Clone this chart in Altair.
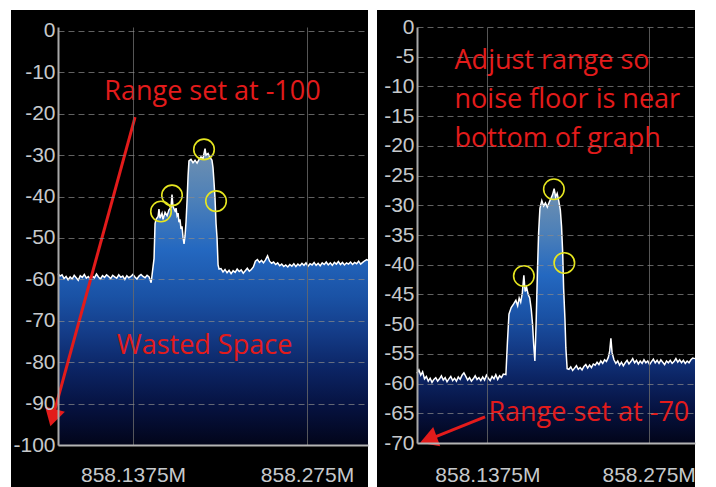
import altair as alt
import pandas as pd

# ---------------- data (frequency offsets in kHz above 858 MHz, level in dB) -------------
left_trace = [
    (78.2, -58.6), (79.8, -59.2), (81.4, -58.9), (83.0, -59.8), (84.6, -59.3), (86.2, -60.1),
    (87.8, -59.4), (89.4, -59.9), (91.0, -59.0), (92.6, -59.6), (94.2, -60.2), (95.8, -59.1),
    (97.4, -59.5), (99.0, -58.8), (100.6, -59.7), (102.2, -59.3), (103.8, -60.0), (105.4, -59.2),
    (107.0, -59.6), (108.6, -58.7), (110.2, -59.4), (111.8, -59.9), (113.4, -59.1), (115.0, -59.5),
    (116.6, -58.9), (118.2, -59.3), (119.8, -59.8), (121.4, -59.0), (123.0, -59.4), (124.6, -59.7),
    (126.2, -58.9), (127.8, -59.5), (129.4, -59.2), (131.0, -60.0), (132.6, -59.1), (134.2, -59.6),
    (135.8, -59.3), (137.4, -58.8), (139.0, -59.4), (140.6, -59.9), (142.2, -59.2), (143.8, -58.8),
    (145.4, -59.3), (147.0, -59.6), (148.6, -59.0), (150.2, -59.4), (151.8, -60.8),
    (154.1, -55.0), (154.9, -46.5), (155.7, -45.5), (157.3, -44.8), (158.0, -43.0), (158.8, -45.2),
    (160.4, -44.0), (161.2, -45.5), (162.8, -43.8), (164.4, -44.6), (165.9, -43.2), (167.5, -42.6),
    (168.3, -39.5), (169.1, -42.4), (170.7, -43.5), (171.5, -42.8), (172.3, -44.6), (173.1, -44.0),
    (173.8, -46.2), (174.6, -45.5), (175.4, -47.8), (176.2, -47.2), (177.0, -49.8), (177.8, -51.4),
    (178.6, -49.5), (179.4, -46.0), (180.2, -41.0), (181.0, -35.0), (181.7, -31.4), (183.3, -31.0),
    (184.9, -31.8), (186.5, -31.2), (188.1, -31.9), (189.7, -31.0), (191.2, -30.4), (192.8, -30.8),
    (194.4, -28.4), (195.2, -30.0), (196.8, -29.6), (198.3, -30.5), (199.9, -31.2), (200.7, -33.0),
    (201.5, -36.5), (202.3, -40.5), (203.1, -46.5), (203.9, -50.0), (204.7, -56.5), (205.5, -57.5),
    (207.0, -57.4), (208.6, -58.2), (210.2, -57.6), (211.8, -58.4), (213.4, -57.8), (215.0, -58.6),
    (216.6, -57.9), (218.2, -58.3), (219.8, -57.5), (221.4, -58.1), (223.0, -57.7), (224.6, -58.5),
    (226.2, -57.9), (227.8, -57.3), (229.4, -58.0), (231.0, -57.6), (232.6, -57.0), (234.2, -55.6),
    (235.8, -55.2), (237.4, -55.9), (239.0, -55.4), (240.6, -56.0), (242.2, -55.3), (243.8, -54.3),
    (245.4, -55.6), (247.0, -56.1), (248.6, -55.8), (250.2, -56.4), (251.8, -56.0), (253.4, -56.7),
    (255.0, -56.3), (256.6, -56.9), (258.2, -56.5), (259.8, -57.0), (261.4, -56.4), (263.0, -56.8),
    (264.6, -56.2), (266.2, -56.9), (267.8, -56.3), (269.4, -56.7), (271.0, -56.1), (272.6, -56.6),
    (274.2, -56.0), (275.8, -56.8), (277.4, -56.2), (279.0, -56.5), (280.6, -55.9), (282.2, -56.6),
    (283.8, -56.1), (285.4, -56.7), (287.0, -56.0), (288.6, -56.4), (290.2, -55.8), (291.8, -56.5),
    (293.4, -56.0), (295.0, -56.6), (296.6, -55.9), (298.2, -56.3), (299.8, -55.7), (301.4, -56.4),
    (303.0, -55.9), (304.6, -56.5), (306.2, -56.0), (307.8, -56.3), (309.4, -55.8), (311.0, -56.4),
    (312.6, -55.9), (314.2, -56.2), (315.8, -55.6), (317.4, -56.3), (319.0, -55.9), (320.6, -55.5),
    (322.2, -55.2), (323.2, -55.4),
]

right_trace = [
    (77.5, -58.3), (79.1, -57.7), (80.7, -58.6), (82.3, -58.0), (83.9, -59.2), (85.5, -58.8),
    (87.1, -59.6), (88.7, -59.1), (90.3, -59.8), (91.9, -59.3), (93.5, -59.0), (95.1, -59.6),
    (96.7, -59.2), (98.3, -58.7), (99.9, -59.4), (101.5, -59.0), (103.1, -59.7), (104.7, -59.2),
    (106.3, -58.8), (107.9, -59.5), (109.5, -59.1), (111.1, -59.6), (112.7, -58.9), (114.3, -59.3),
    (115.9, -58.6), (117.5, -58.2), (119.1, -58.8), (120.7, -59.4), (122.3, -59.0), (123.9, -59.6),
    (125.5, -59.2), (127.1, -58.7), (128.7, -59.3), (130.3, -59.0), (131.9, -59.5), (133.5, -58.9),
    (135.1, -59.4), (136.7, -58.6), (138.3, -59.1), (139.9, -59.5), (141.5, -58.8), (143.1, -59.2),
    (144.7, -58.5), (146.3, -59.3), (147.9, -58.7), (149.5, -59.0), (151.1, -58.4),
    (153.3, -58.5), (154.6, -53.0), (155.9, -48.3), (157.8, -47.2), (159.9, -46.6), (161.8, -46.0),
    (163.3, -46.9), (164.6, -45.6), (165.9, -46.3), (167.3, -44.7), (168.6, -41.8), (169.7, -44.5),
    (170.9, -43.8), (172.3, -45.0), (173.6, -45.6), (174.9, -47.5), (176.0, -50.0), (177.0, -53.5),
    (178.0, -56.2), (179.1, -49.5), (180.2, -41.0), (181.2, -34.5), (182.3, -30.5), (183.9, -29.2),
    (185.5, -30.1), (187.0, -29.6), (188.6, -30.3), (190.2, -29.5), (191.8, -28.8), (193.1, -28.2),
    (194.4, -27.2), (195.7, -28.6), (197.0, -28.0), (198.3, -29.2), (199.7, -30.8), (200.7, -33.5),
    (201.7, -38.0), (202.5, -44.0), (203.6, -49.0), (204.4, -54.0), (205.5, -57.5),
    (207.0, -57.6), (208.6, -57.2), (210.2, -57.8), (211.8, -57.4), (213.4, -57.0), (215.0, -57.6),
    (216.6, -57.3), (218.2, -57.7), (219.8, -57.1), (221.4, -56.8), (223.0, -57.4), (224.6, -56.9),
    (226.2, -57.3), (227.8, -56.7), (229.4, -56.9), (231.0, -56.4), (232.6, -56.8), (234.2, -56.2),
    (235.8, -56.6), (237.4, -56.0), (239.0, -56.3), (240.6, -55.6), (241.8, -54.5), (242.8, -52.4),
    (243.8, -54.8), (245.4, -56.0), (247.0, -56.6), (248.6, -56.2), (250.2, -56.9), (251.8, -56.4),
    (253.4, -57.0), (255.0, -56.5), (256.6, -56.1), (258.2, -56.7), (259.8, -56.3), (261.4, -55.8),
    (263.0, -56.5), (264.6, -56.1), (266.2, -56.7), (267.8, -56.2), (269.4, -56.6), (271.0, -56.0),
    (272.6, -56.5), (274.2, -56.2), (275.8, -56.8), (277.4, -56.3), (279.0, -55.9), (280.6, -56.5),
    (282.2, -56.1), (283.8, -56.6), (285.4, -56.0), (287.0, -56.4), (288.6, -56.8), (290.2, -56.2),
    (291.8, -56.5), (293.4, -56.1), (295.0, -56.6), (296.6, -56.3), (298.2, -55.8), (299.8, -56.4),
    (301.4, -56.0), (303.0, -56.5), (304.6, -56.1), (306.2, -56.6), (307.8, -56.2), (309.4, -56.5),
    (311.0, -56.0), (312.6, -55.7), (314.5, -55.8),
]

left_ticks = [0, -10, -20, -30, -40, -50, -60, -70, -80, -90, -100]
right_ticks = [0, -5, -10, -15, -20, -25, -30, -35, -40, -45, -50, -55, -60, -65, -70]
freq_ticks = [858.1375, 858.275]

left_circles = [(159.6, -43.6), (168.3, -39.7), (193.6, -28.6), (203.1, -41.1)]
right_circles = [(168.6, -41.9), (194.2, -27.3), (203.1, -39.7)]

left_texts = [(200.3, -16.7, "Range set at -100", "center"), (194.0, -78.1, "Wasted Space", "center")]
right_texts = [(109.5, -7.1, "Adjust range so", "left"),
               (109.5, -13.7, "noise floor is near", "left"),
               (109.5, -20.2, "bottom of graph", "left"),
               (224.0, -66.3, "Range set at -70", "center")]

# arrow: start (kHz, dB) -> head (kHz, dB), head angle in degrees
left_arrow = (139.1, -20.8, 74.0, -93.4, 195)
right_arrow = (135.5, -65.6, 87.2, -69.45, 250)

RED = "#e31b1b"
YEL = "#e6e620"

fill = alt.Gradient(
    gradient="linear",
    stops=[
        alt.GradientStop(color="#7191b0", offset=0.0),
        alt.GradientStop(color="#4d80b8", offset=0.17),
        alt.GradientStop(color="#2468c0", offset=0.34),
        alt.GradientStop(color="#1a52a5", offset=0.5),
        alt.GradientStop(color="#143c88", offset=0.62),
        alt.GradientStop(color="#0c2565", offset=0.74),
        alt.GradientStop(color="#061240", offset=0.87),
        alt.GradientStop(color="#02051a", offset=1.0),
    ],
    x1=0, x2=0, y1=0, y2=1,
)


def mhz(k):
    return 858 + k / 1000.0


def panel(trace, yvals, ydom, xdom, w, h, rl, rt, rb, lpad, circles, texts, arrow):
    lo = ydom[0]
    df = pd.DataFrame(trace, columns=["khz", "db"])
    df["freq"] = mhz(df["khz"])
    xs = alt.Scale(domain=[mhz(xdom[0]), mhz(xdom[1])], zero=False, nice=False)
    ys = alt.Scale(domain=list(ydom), zero=False, nice=False)
    xax = alt.Axis(values=freq_ticks, format=".4~f", labelExpr="datum.label + 'M'", title=None,
                   ticks=False, grid=True, gridColor="#6a6a6a", gridWidth=1, gridOpacity=0.8,
                   domainColor="#b4b4b4", domainWidth=2, labelFont="Liberation Sans",
                   labelFontSize=21, labelColor="#c6c9cc", labelPadding=lpad, labelFlush=False,
                   labelOverlap=False, zindex=1)
    yax = alt.Axis(values=yvals, labelExpr="'' + datum.value", title=None, ticks=False,
                   grid=True, gridColor="#8a8a8a",
                   gridDash=[6, 4], gridWidth=1, gridOpacity=0.7, domainColor="#a8a8a8",
                   domainWidth=2, labelFont="Liberation Sans", labelFontSize=21,
                   labelColor="#c6c9cc", labelPadding=3, labelFlush=False, labelOverlap=False,
                   zindex=1)

    def X(f):
        return alt.X(f, type="quantitative", scale=xs, axis=xax)

    def Y(f):
        return alt.Y(f, type="quantitative", scale=ys, axis=yax)

    bg = alt.Chart(pd.DataFrame({"a": [0]})).mark_rect(color="black").encode(
        x=alt.value(-rl), x2=alt.value(w), y=alt.value(-rt), y2=alt.value(h + rb))

    area = alt.Chart(df).mark_area(color=fill).encode(x=X("freq"), y=Y("db"), y2=alt.datum(lo))
    line = alt.Chart(df).mark_line(color="white", strokeWidth=1.5).encode(x=X("freq"), y=Y("db"))

    cdf = pd.DataFrame(circles, columns=["khz", "db"])
    cdf["freq"] = mhz(cdf["khz"])
    circ = alt.Chart(cdf).mark_point(shape="circle", size=420, filled=False, color=YEL,
                                     strokeWidth=1.6, opacity=1).encode(x=X("freq"), y=Y("db"))

    layers = [bg, area, line, circ]
    tdf = pd.DataFrame(texts, columns=["khz", "db", "t", "al"])
    tdf["freq"] = mhz(tdf["khz"])
    for al in ["left", "center"]:
        sub = tdf[tdf["al"] == al]
        if len(sub):
            layers.append(alt.Chart(sub).mark_text(font="Open Sans", fontSize=27, color=RED,
                                                   align=al, baseline="alphabetic").encode(
                x=X("freq"), y=Y("db"), text="t:N"))

    adf = pd.DataFrame([arrow], columns=["k1", "d1", "k2", "d2", "ang"])
    adf["f1"] = mhz(adf["k1"])
    adf["f2"] = mhz(adf["k2"])
    rule = alt.Chart(adf).mark_rule(color=RED, strokeWidth=3).encode(
        x=X("f1"), y=Y("d1"), x2="f2:Q", y2="d2:Q")
    head = alt.Chart(adf).mark_point(shape="triangle-up", filled=True, size=420, color=RED,
                                     opacity=1, angle=float(arrow[4])).encode(x=X("f2"), y=Y("d2"))
    layers += [rule, head]
    return alt.layer(*layers).properties(width=w, height=h)


left = panel(left_trace, left_ticks, (-100, 0.966), (78.2, 323.2), 310, 418, 47, 17, 42, 19,
             left_circles, left_texts, left_arrow)
right = panel(right_trace, right_ticks, (-70, 0), (77.5, 314.5), 278, 416, 40, 17, 44, 21,
              right_circles, right_texts, right_arrow)

chart = alt.hconcat(left, right, spacing=6).properties(
    padding={"left": 3, "top": 2, "right": 0, "bottom": 0}, background="white"
).configure_view(stroke=None)

chart.save("out.html", embed_options={"renderer": "svg", "actions": False})
